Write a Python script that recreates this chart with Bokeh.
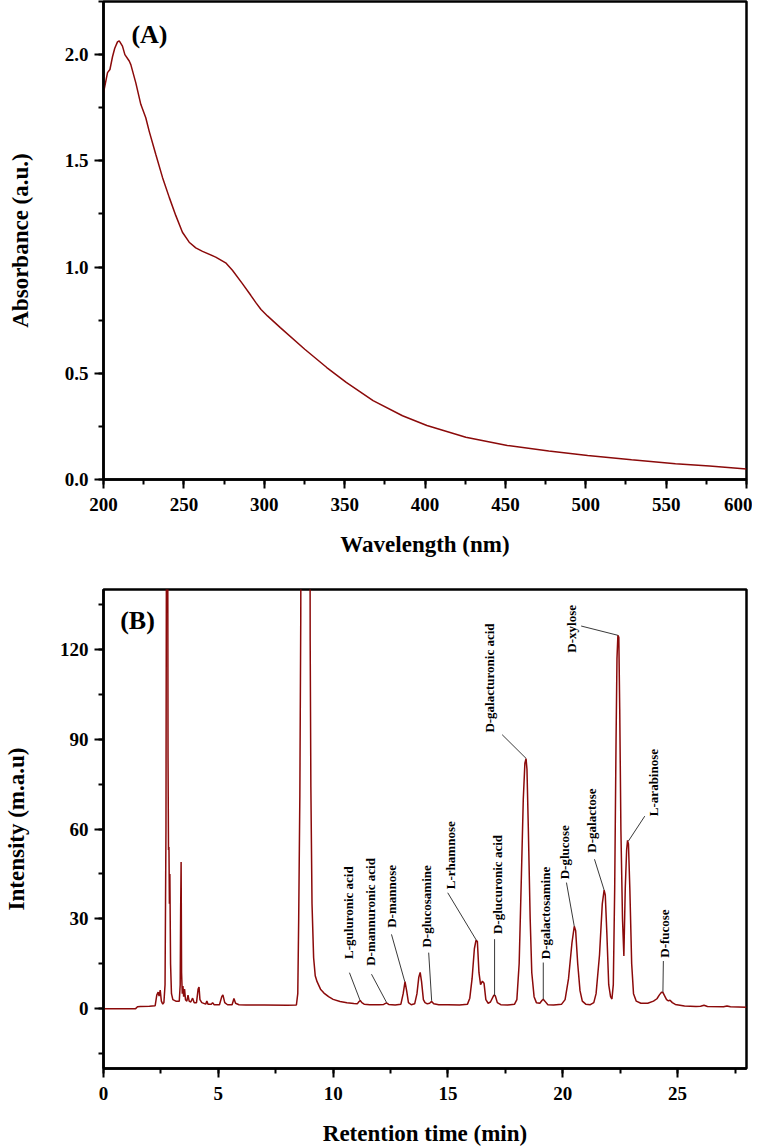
from math import pi
from bokeh.plotting import figure
from bokeh.models import Range1d, SingleIntervalTicker, NumeralTickFormatter, Label
from bokeh.layouts import column
from bokeh.core.properties import value
from bokeh.embed import file_html
from bokeh.resources import INLINE

# ---------------- Panel A data: UV-Vis spectrum ----------------
wavelength = [200.0, 202.5, 204.0, 205.6, 207.0, 208.7, 209.8, 211.8, 213.3, 216.0, 217.0,
              220.1, 223.2, 226.3, 228.4, 232.5, 236.7, 240.9, 245.0, 249.1, 253.3,
              257.4, 261.6, 269.8, 276.0, 280.2, 286.4, 291.6, 295.0, 298.0, 302.0,
              310.0, 325.2, 338.9, 351.0, 367.7, 386.0, 401.2, 425.4, 451.2, 477.0,
              501.2, 528.5, 555.8, 577.0, 600.0]
absorbance = [1.82, 1.915, 1.93, 1.99, 2.03, 2.06, 2.065, 2.04, 2.00, 1.97, 1.953,
              1.867, 1.766, 1.703, 1.64, 1.531, 1.422, 1.328, 1.242, 1.164, 1.117,
              1.09, 1.074, 1.047, 1.02, 0.985, 0.922, 0.867, 0.83, 0.80, 0.77,
              0.715, 0.613, 0.527, 0.457, 0.371, 0.30, 0.254, 0.199, 0.16, 0.134,
              0.113, 0.093, 0.074, 0.063, 0.049]

# ---------------- Panel B data: HPLC chromatogram ----------------
ret_time = [0.0, 1.0, 1.40, 1.48, 1.6, 2.0, 2.25, 2.32, 2.38, 2.42, 2.47, 2.52, 2.58, 2.63,
            2.68, 2.72, 2.75, 2.79, 2.81, 2.83, 2.85, 2.87, 2.89, 2.92, 2.96, 3.02, 3.15,
            3.30, 3.34, 3.36, 3.38, 3.40, 3.43, 3.46, 3.49, 3.53, 3.57, 3.63, 3.68, 3.73,
            3.80, 3.88, 3.95, 4.05, 4.12, 4.16, 4.20, 4.28, 4.45, 4.50, 4.55, 4.70, 4.75,
            4.82, 5.05, 5.15, 5.20, 5.28, 5.40, 5.60, 5.68, 5.75, 5.90, 6.2, 7.0, 8.0,
            8.40, 8.46, 8.50, 8.55, 8.59, 8.65, 8.80, 8.95, 9.00, 9.03, 9.08, 9.15, 9.22,
            9.30, 9.45, 9.6, 9.8, 10.0, 10.3, 10.6, 10.9, 11.05, 11.12, 11.18, 11.25,
            11.35, 11.6, 12.0, 12.2, 12.32, 12.42, 12.7, 12.95, 13.05, 13.13, 13.20,
            13.28, 13.40, 13.55, 13.65, 13.73, 13.79, 13.85, 13.93, 14.0, 14.1, 14.2,
            14.29, 14.38, 14.6, 15.0, 15.5, 15.85, 15.95, 16.05, 16.15, 16.22, 16.28,
            16.35, 16.42, 16.50, 16.57, 16.65, 16.75, 16.85, 17.0, 17.06, 17.15, 17.3,
            17.6, 17.9, 18.0, 18.1, 18.2, 18.28, 18.35, 18.40, 18.44, 18.50, 18.58,
            18.65, 18.75, 18.85, 19.0, 19.1, 19.15, 19.22, 19.35, 19.6, 19.95, 20.1,
            20.25, 20.4, 20.5, 20.56, 20.65, 20.75, 20.85, 21.0, 21.2, 21.35, 21.45,
            21.6, 21.72, 21.8, 21.85, 21.92, 22.0, 22.08, 22.14, 22.2, 22.26, 22.32,
            22.36, 22.40, 22.44, 22.48, 22.53, 22.60, 22.66, 22.72, 22.78, 22.82, 22.86,
            22.92, 23.0, 23.08, 23.2, 23.4, 23.7, 23.95, 24.1, 24.2, 24.3, 24.36, 24.44,
            24.52, 24.6, 24.67, 24.77, 24.9, 25.3, 25.8, 26.0, 26.15, 26.3, 27.0, 27.15,
            27.3, 28.0]
intensity = [0.0, 0.0, 0.0, 0.6, 0.7, 0.8, 1.0, 4.5, 5.5, 4.2, 6.2, 2.5, 1.5, 2.0,
             8.0, 60.0, 200.0, 200.0, 84.0, 53.0, 54.0, 35.0, 45.0, 15.0, 5.0, 3.0, 2.5,
             2.5, 8.0, 33.0, 49.0, 12.0, 5.0, 7.5, 4.0, 6.5, 3.0, 2.5, 4.5, 2.5,
             2.2, 3.5, 2.0, 2.0, 6.5, 7.2, 3.0, 2.0, 1.5, 2.5, 1.5, 1.5, 2.0,
             1.3, 1.3, 4.0, 4.6, 2.0, 1.3, 1.3, 3.4, 1.8, 1.3, 1.2, 1.2, 1.1,
             1.2, 5.0, 30.0, 71.0, 131.0, 400.0, 600.0, 400.0, 123.0, 74.0, 35.0, 17.0, 11.0,
             9.0, 6.5, 5.2, 4.0, 3.1, 2.4, 2.0, 1.7, 1.6, 2.3, 2.7, 2.0,
             1.5, 1.3, 1.3, 1.4, 1.9, 1.4, 1.2, 1.5, 5.0, 9.0, 6.0,
             2.0, 1.3, 1.6, 5.0, 10.5, 12.1, 9.0, 3.0, 2.0, 1.6, 1.8,
             2.4, 1.6, 1.3, 1.3, 1.2, 1.5, 3.5, 10.0, 20.0, 22.8, 22.5,
             12.0, 8.0, 9.2, 8.5, 3.0, 1.8, 2.2, 4.5, 4.3, 2.0, 1.3,
             1.2, 1.5, 3.0, 15.0, 45.0, 70.0, 82.0, 83.5, 80.0, 60.0, 30.0,
             12.0, 4.0, 2.0, 1.8, 2.8, 3.1, 2.5, 1.3, 1.2, 1.5, 3.0,
             10.0, 22.0, 27.5, 26.0, 15.0, 6.0, 2.5, 1.5, 1.3, 2.0, 5.0,
             18.0, 35.0, 39.6, 38.0, 25.0, 8.0, 4.0, 3.2, 8.0, 40.0, 90.0,
             117.0, 124.7, 124.0, 100.0, 60.0, 30.0, 17.6, 40.0, 53.0, 56.2, 55.0,
             40.0, 15.0, 5.0, 2.5, 1.8, 1.8, 2.5, 3.3, 4.5, 5.5, 5.4, 4.2,
             3.0, 2.6, 2.8, 2.0, 1.4, 0.9, 0.7, 0.8, 1.1, 0.7, 0.6, 0.9,
             0.6, 0.5]

# Peak annotations (text, text anchor x/y at the text's lower end, leader start and end)
peak_names = ["L-guluronic acid", "D-mannuronic acid", "D-mannose", "D-glucosamine",
              "L-rhamnose", "D-glucuronic acid", "D-galacturonic acid", "D-galactosamine",
              "D-glucose", "D-galactose", "D-xylose", "L-arabinose", "D-fucose"]
name_x = [10.69, 11.63, 12.54, 14.08, 15.10, 17.15, 16.81, 19.26, 20.07, 21.27, 20.36, 23.97, 24.45]
name_y = [16.6, 14.3, 27.0, 20.4, 39.9, 24.9, 92.2, 16.5, 43.2, 52.1, 118.9, 64.3, 17.0]
lead_x0 = [10.71, 11.67, 12.54, 14.16, 14.99, 17.03, 17.36, 19.15, 20.16, 21.38, 20.80, 23.57, 24.38]
lead_y0 = [12.0, 11.5, 24.8, 18.7, 38.7, 23.2, 91.5, 15.4, 42.1, 49.9, 127.8, 64.3, 15.9]
lead_x1 = [11.17, 12.33, 13.12, 14.29, 16.24, 17.03, 18.40, 19.15, 20.50, 21.80, 22.40, 22.86, 24.36]
lead_y1 = [2.8, 2.0, 9.0, 2.6, 22.8, 4.4, 83.6, 3.1, 27.5, 39.6, 124.7, 56.0, 5.5]

LINE_COLOR = "#8b0a0a"
FONT = "Liberation Serif"


def style(p, ylabel_standoff):
    p.toolbar_location = None
    p.xgrid.visible = False
    p.ygrid.visible = False
    p.outline_line_color = "black"
    p.outline_line_width = 2.5
    p.outline_line_alpha = 1.0
    p.background_fill_color = "white"
    p.border_fill_color = "white"
    for ax in (p.xaxis[0], p.yaxis[0]):
        ax.axis_line_width = 2.5
        ax.axis_line_color = "black"
        ax.major_tick_line_width = 2
        ax.minor_tick_line_width = 2
        ax.major_tick_out = 9
        ax.major_tick_in = 0
        ax.minor_tick_out = 5
        ax.minor_tick_in = 0
        ax.major_label_text_font = FONT
        ax.major_label_text_font_style = "bold"
        ax.major_label_text_font_size = "19px"
        ax.major_label_text_color = "black"
        ax.axis_label_text_font = FONT
        ax.axis_label_text_font_style = "bold"
        ax.axis_label_text_font_size = "23px"
        ax.axis_label_text_color = "black"
    p.xaxis[0].major_label_standoff = 9
    p.yaxis[0].major_label_standoff = 6
    p.xaxis[0].axis_label_standoff = 18
    p.yaxis[0].axis_label_standoff = ylabel_standoff


# ---------------- Panel A ----------------
pA = figure(frame_width=643, frame_height=478, output_backend="svg", toolbar_location=None,
            x_range=Range1d(200, 600), y_range=Range1d(0, 2.25),
            min_border_left=98, min_border_right=10, min_border_top=1, min_border_bottom=76,
            x_axis_label="Wavelength (nm)", y_axis_label="Absorbance (a.u.)")
style(pA, 29)
pA.xaxis[0].ticker = SingleIntervalTicker(interval=50, num_minor_ticks=2)
pA.yaxis[0].ticker = SingleIntervalTicker(interval=0.5, num_minor_ticks=2)
pA.yaxis[0].formatter = NumeralTickFormatter(format="0.0")
pA.line(wavelength, absorbance, line_color=LINE_COLOR, line_width=1.5)
pA.add_layout(Label(x=228.6, y=2.097, text="(A)", text_font=FONT, text_font_style="bold",
                    text_font_size="26px", text_align="center", text_baseline="middle",
                    text_color="black"))

# ---------------- Panel B ----------------
pB = figure(frame_width=643, frame_height=479, output_backend="svg", toolbar_location=None,
            x_range=Range1d(0, 28), y_range=Range1d(-20, 140),
            min_border_left=101, min_border_right=7, min_border_top=30, min_border_bottom=74,
            x_axis_label="Retention time (min)", y_axis_label="Intensity (m.a.u)")
style(pB, 28)
pB.xaxis[0].ticker = SingleIntervalTicker(interval=5, num_minor_ticks=2)
pB.yaxis[0].ticker = SingleIntervalTicker(interval=30, num_minor_ticks=2)
pB.line(ret_time, intensity, line_color=LINE_COLOR, line_width=1.5)
pB.segment(x0=lead_x0, y0=lead_y0, x1=lead_x1, y1=lead_y1, line_color="#222222", line_width=0.9)
pB.text(x=name_x, y=name_y, text=peak_names, angle=pi / 2, text_align="left",
        text_baseline="middle", text_font=value(FONT), text_font_style="bold",
        text_font_size="13px", text_color="black")
pB.add_layout(Label(x=1.48, y=129.8, text="(B)", text_font=FONT, text_font_style="bold",
                    text_font_size="26px", text_align="center", text_baseline="middle",
                    text_color="black"))

layout = column(pA, pB, spacing=0)
open("out.html", "w").write(file_html(layout, INLINE))
